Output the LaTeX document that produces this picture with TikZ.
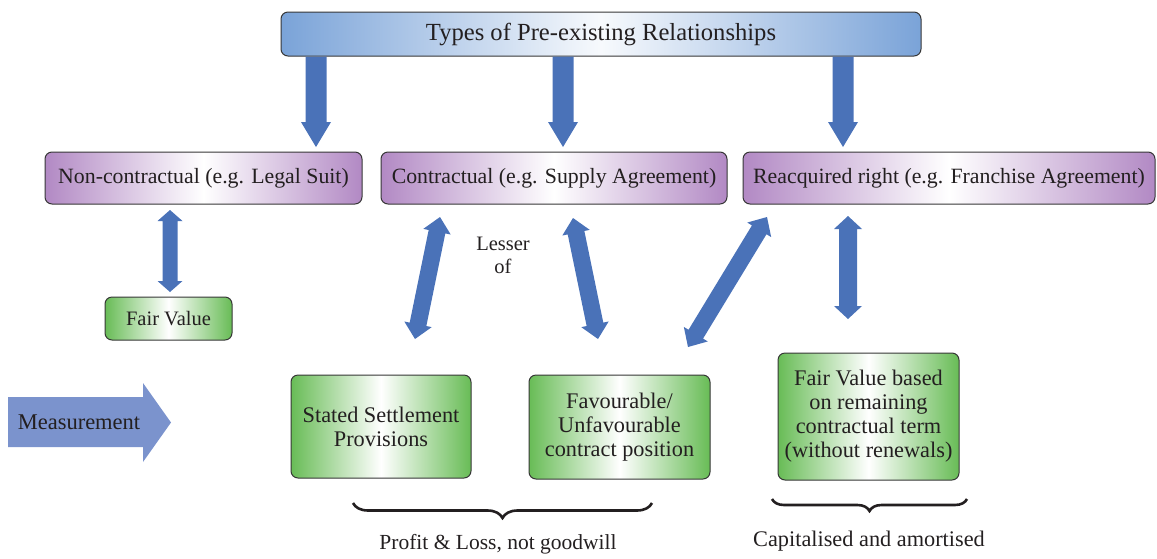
\documentclass[tikz,border=0pt]{standalone}
\usepackage{fontspec}
\setmainfont{Liberation Serif}
\usetikzlibrary{calc,decorations.pathreplacing}
\definecolor{arrowblue}{RGB}{74,114,184}
\definecolor{measblue}{RGB}{123,147,205}
\definecolor{topblue}{RGB}{122,163,216}
\definecolor{purp}{RGB}{178,137,196}
\definecolor{grn}{RGB}{104,188,86}
\definecolor{edgegray}{RGB}{55,55,55}
\definecolor{txt}{RGB}{35,31,32}
% double-headed block arrow: start, end, shaft half width, head half width, head length
\newcommand\dblarrow[5]{%
  \coordinate (hA) at ($(#1)!#5!(#2)$);
  \coordinate (hB) at ($(#2)!#5!(#1)$);
  \fill[arrowblue] (#1) -- ($(hA)!#4!90:(#2)$) -- ($(hA)!#3!90:(#2)$)
    -- ($(hB)!#3!90:(#2)$) -- ($(hB)!#4!90:(#2)$) -- (#2)
    -- ($(hB)!#4!-90:(#2)$) -- ($(hB)!#3!-90:(#2)$)
    -- ($(hA)!#3!-90:(#2)$) -- ($(hA)!#4!-90:(#2)$) -- cycle;}
% single-headed block arrow
\newcommand\sglarrow[5]{%
  \coordinate (hB) at ($(#2)!#5!(#1)$);
  \fill[arrowblue] ($(#1)!#3!90:(#2)$) -- ($(hB)!#3!90:(#2)$)
    -- ($(hB)!#4!90:(#2)$) -- (#2) -- ($(hB)!#4!-90:(#2)$)
    -- ($(hB)!#3!-90:(#2)$) -- ($(#1)!#3!-90:(#2)$) -- cycle;}
\begin{document}
\begin{tikzpicture}[x=1pt,y=-1pt,
  box/.style={draw=edgegray, line width=1pt, rounded corners=7pt, inner sep=0pt,
    align=center, text=txt},
  topbox/.style={box, left color=topblue, right color=topblue, middle color=white!94!topblue,
    font=\fontsize{24.6}{28}\selectfont},
  pbox/.style={box, left color=purp, right color=purp, middle color=white,
    minimum height=52pt, font=\fontsize{21.8}{25}\selectfont},
  gbox/.style={box, left color=grn, right color=grn, middle color=white,
    font=\fontsize{22.3}{24}\selectfont},
  lbl/.style={text=txt, align=center, inner sep=0pt, font=\fontsize{22}{23}\selectfont},
  bracestyle/.style={draw=txt, line width=2.6pt, decorate,
    decoration={brace, mirror, amplitude=#1}}]
\useasboundingbox (0,0) rectangle (1157,558);

% boxes
\node[topbox, minimum width=640pt, minimum height=44pt] (top) at (601,34) {Types of Pre-existing Relationships};
\node[pbox, minimum width=317pt] (nc) at (203.5,178) {Non-contractual (e.g. Legal Suit)};
\node[pbox, minimum width=346pt] (ct) at (554,178) {Contractual (e.g. Supply Agreement)};
\node[pbox, minimum width=412pt] (rr) at (949,178) {Reacquired right (e.g. Franchise Agreement)};
\node[gbox, minimum width=127pt, minimum height=43pt, font=\fontsize{20.5}{23}\selectfont] (fv) at (168.5,318.5) {Fair Value};
\node[gbox, minimum width=180pt, minimum height=103pt] (ss) at (381,426.5) {Stated Settlement\\Provisions};
\node[gbox, minimum width=181pt, minimum height=104pt] (fu) at (619.5,427) {Favourable/\\Unfavourable\\contract position};
\node[gbox, minimum width=181pt, minimum height=127pt] (fb) at (868.5,416.5) {Fair Value based\\on remaining\\contractual term\\(without renewals)};

% measurement arrow
\fill[measblue] (8,397) -- (143,397) -- (143,383) -- (171,422.5) -- (143,462) -- (143,447) -- (8,447) -- cycle;
\node[lbl, font=\fontsize{22.5}{24}\selectfont] (meas) at (79,422) {Measurement};

% labels
\node[lbl, font=\fontsize{20.5}{23}\selectfont] (lesser) at (503,255) {Lesser\\of};
\node[lbl, font=\fontsize{21.5}{23}\selectfont] (pl) at (498,544) {Profit \& Loss, not goodwill};
\node[lbl, font=\fontsize{22.3}{23}\selectfont] (ca) at (869,541) {Capitalised and amortised};

% arrow end points
\coordinate (d1s) at (top.south -| 316,0);
\coordinate (d1e) at (316,147);
\coordinate (d2s) at (top.south -| 563,0);
\coordinate (d2e) at (563,147);
\coordinate (d3s) at (top.south -| 843,0);
\coordinate (d3e) at (843,147);
\coordinate (f1) at (170,210);
\coordinate (f2) at (170,292);
\coordinate (c1a) at (440,217);
\coordinate (c1b) at (415,339);
\coordinate (c2a) at (573,218);
\coordinate (c2b) at (598,339);
\coordinate (c3a) at (767,217);
\coordinate (c3b) at (688,347);
\coordinate (r1) at (848,216);
\coordinate (r2) at (848,319);

\sglarrow{d1s}{d1e}{10.5pt}{15pt}{25pt}
\sglarrow{d2s}{d2e}{10.5pt}{15pt}{25pt}
\sglarrow{d3s}{d3e}{10.5pt}{15pt}{25pt}
\dblarrow{f1}{f2}{7.5pt}{12.5pt}{11pt}
\dblarrow{c1a}{c1b}{8.5pt}{14pt}{15pt}
\dblarrow{c2a}{c2b}{8.5pt}{14pt}{15pt}
\dblarrow{c3a}{c3b}{8.5pt}{14pt}{15pt}
\dblarrow{r1}{r2}{9pt}{14pt}{13pt}

% braces
\coordinate (b1l) at (353,503);
\coordinate (b1r) at (652,503);
\coordinate (b2l) at (772,499);
\coordinate (b2r) at (967,499);
\draw[bracestyle=15pt] (b1l) -- (b1r);
\draw[bracestyle=12pt] (b2l) -- (b2r);
\end{tikzpicture}
\end{document}
